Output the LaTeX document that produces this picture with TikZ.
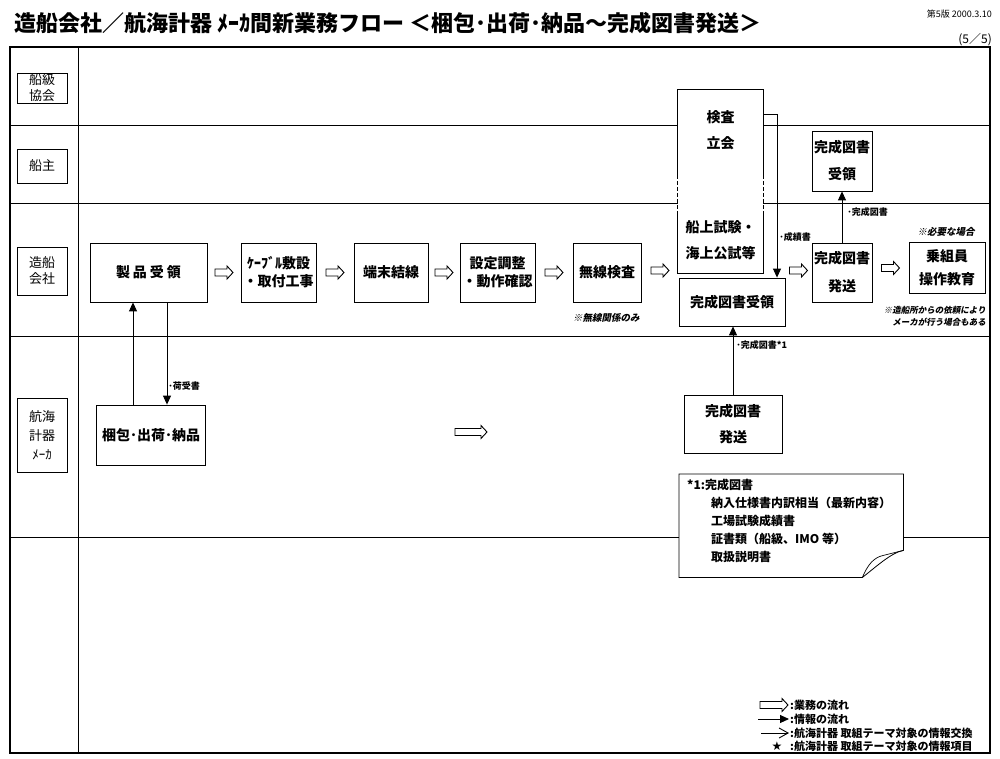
\documentclass[tikz,border=0pt]{standalone}
\usepackage{fontspec}
\setmainfont{Noto Sans CJK JP}
\newfontfamily\jpsl{Noto Sans CJK JP}[FakeSlant=0.2]
\newfontfamily\dejavu{DejaVu Sans}
\usetikzlibrary{arrows.meta,calc}
\tikzset{
 box/.style={draw, line width=0.8pt, fill=white, font=\bfseries\fontsize{14}{18}\selectfont, align=center, inner sep=0pt},
 lanebox/.style={draw, line width=0.8pt, fill=white, minimum width=50pt, font=\fontsize{13}{16}\selectfont, align=center, inner sep=0pt},
 info/.style={-{Triangle[length=9pt,width=8pt]}, line width=0.9pt},
 lab/.style={font=\bfseries\fontsize{9}{10}\selectfont, inner sep=1pt},
 slnote/.style={font=\jpsl\bfseries\fontsize{9.5}{11}\selectfont, inner sep=0pt},
 plain/.style={inner sep=0pt},
 hollow/.style={draw, line width=0.9pt, fill=white},
 pics/harrow/.style={code={\draw[hollow] (-#1,-3.5) -- (#1-6,-3.5) -- (#1-6,-6.5) -- (#1,0) -- (#1-6,6.5) -- (#1-6,3.5) -- (-#1,3.5) -- cycle;}},
 legtext/.style={anchor=west, font=\bfseries\fontsize{11}{12}\selectfont, inner sep=0pt}
}
\begin{document}
\begin{tikzpicture}[x=1pt,y=-1pt]
\useasboundingbox (0,0) rectangle (1000,759);
% title
\node[anchor=west, font=\bfseries\fontsize{22}{24}\selectfont, inner sep=0pt] (title) at (14,23) {造船会社／航海計器 ﾒｰｶ間新業務フロー ＜梱包･出荷･納品～完成図書発送＞};
\node[anchor=east, font=\fontsize{9}{10}\selectfont, inner sep=0pt] (ver) at (992,14) {第5版 2000.3.10};
\node[anchor=east, font=\fontsize{12}{13}\selectfont, inner sep=0pt] (page) at (992,40) {(5／5)};

% frame and lanes
\draw[line width=1.2pt] (10,47) rectangle (990,753);
\draw[line width=1pt] (78,47) -- (78,753);
\foreach \y in {126,204,336,537} \draw[line width=1pt] (10,\y) -- (990,\y);

% lane labels
\node[lanebox, minimum height=30pt] (L1) at (42,88) {船級\\協会};
\node[lanebox, minimum height=34pt] (L2) at (42,166) {船主};
\node[lanebox, minimum height=48pt] (L3) at (42,271) {造船\\会社};
\node[lanebox, minimum height=74pt] (L4) at (42,435) {航海\\[3pt]計器\\[3pt]ﾒｰｶ};

% shipyard lane process boxes
\node[box, minimum width=117pt, minimum height=59pt] (recv) at (148.5,272.5) {製\hspace{3pt}品\hspace{3pt}受\hspace{3pt}領};
\node[box, minimum width=75pt, minimum height=59pt] (cable) at (278.5,272.5) {ｹｰﾌﾞﾙ敷設\\・取付工事};
\node[box, minimum width=74pt, minimum height=59pt] (term) at (391,272.5) {端末結線};
\node[box, minimum width=75pt, minimum height=59pt] (adj) at (497.5,272.5) {設定調整\\・動作確認};
\node[box, minimum width=68pt, minimum height=59pt] (radio) at (607,272.5) {無線検査};
\node[slnote, anchor=west] (radionote) at (573,318) {※無線関係のみ};

% inspection box spanning lanes
\node[fill=white, minimum width=85pt, minimum height=183pt, inner sep=0pt] (insp) at (720.5,181.5) {};
\draw[line width=0.8pt] ([yshift=-85]insp.north west) -- (insp.north west) -- (insp.north east) -- ([yshift=-85]insp.north east);
\draw[line width=0.8pt] ([yshift=61]insp.south west) -- (insp.south west) -- (insp.south east) -- ([yshift=61]insp.south east);
\draw[line width=0.8pt, dash pattern=on 4pt off 2pt] ([yshift=-85]insp.north west) -- ([yshift=61]insp.south west);
\draw[line width=0.8pt, dash pattern=on 4pt off 2pt] ([yshift=-85]insp.north east) -- ([yshift=61]insp.south east);
\node[plain, font=\bfseries\fontsize{14}{18}\selectfont, align=center] (insptop) at (720.5,130) {検査\\[8pt]立会};
\node[plain, font=\bfseries\fontsize{14}{18}\selectfont, align=center] (inspbot) at (720.5,240) {船上試験・\\[8pt]海上公試等};

\node[box, minimum width=106pt, minimum height=48pt] (docrecv) at (732,302) {完成図書受領};
\node[box, minimum width=60pt, minimum height=59pt] (docsend) at (842,272.5) {完成図書\\[10pt]発送};
\node[box, minimum width=60pt, minimum height=60pt] (ownrecv) at (842,161) {完成図書\\[9pt]受領};
\node[box, minimum width=76pt, minimum height=51pt] (crew) at (947,267.5) {乗組員\\[5pt]操作教育};
\node[slnote] (crewnote1) at (946,232) {※必要な場合};
\node[slnote, font=\jpsl\bfseries\fontsize{8.5}{12}\selectfont, align=right, anchor=east] (crewnote2) at (986,316) {※造船所からの依頼により\\メーカが行う場合もある};

% maker lane
\node[box, minimum width=109pt, minimum height=60pt] (pack) at (151,435) {梱包･出荷･納品};
\node[box, minimum width=98pt, minimum height=58pt] (mksend) at (733,424) {完成図書\\[8pt]発送};

% note with folded corner
\node[minimum width=224pt, minimum height=103pt, inner sep=0pt, anchor=north west] (note) at (679,474) {};
\draw[line width=0.8pt, fill=white] (note.north west) -- (note.north east) -- ([yshift=27]note.south east)
  .. controls ([xshift=-12,yshift=25]note.south east) and ([xshift=-28,yshift=10]note.south east) .. ([xshift=-41]note.south east)
  -- (note.south west) -- cycle;
\draw[line width=0.7pt] ([xshift=-41]note.south east) .. controls ([xshift=-36,yshift=12]note.south east) and ([xshift=-30,yshift=20]note.south east) .. ([xshift=-20,yshift=22]note.south east) -- ([yshift=27]note.south east);
\node[plain, anchor=north west, font=\bfseries\fontsize{12}{18}\selectfont] (notehead) at (687,479) {*1:完成図書};
\node[plain, anchor=north west, align=left, font=\bfseries\fontsize{12}{18}\selectfont] (notebody) at (711,497) {納入仕様書内訳相当（最新内容）\\工場試験成績書\\証書類（船級、IMO 等）\\取扱説明書};

% business flow (hollow) arrows
\pic at ($(recv.east)!.5!(cable.west)$) {harrow=9};
\pic at ($(cable.east)!.5!(term.west)$) {harrow=9};
\pic at ($(term.east)!.5!(adj.west)$) {harrow=9};
\pic at ($(adj.east)!.5!(radio.west)$) {harrow=9};
\pic at ([yshift=2]$(radio.east)!.5!(radio.east -| docrecv.west)$) {harrow=9};
\pic at ([yshift=2]$(docsend.west)!.5!(docsend.west -| docrecv.east)$) {harrow=9};
\pic at ([yshift=2]$(docsend.east)!.5!(crew.west)$) {harrow=9};
\pic at (471,432) {harrow=16};

% information flow arrows
\draw[info] ([xshift=-18]pack.north) -- ([xshift=-18]pack.north |- recv.south);
\draw[info] ([xshift=18.5]recv.south) -- ([xshift=18.5]recv.south |- pack.north) node[lab, pos=0.82, anchor=west] {･荷受書};
\draw[info] (mksend.north) -- (mksend.north |- docrecv.south) node[lab, pos=0.72, anchor=west, xshift=2] {･完成図書*1};
\draw[info] ([yshift=-25]insp.north east) -| ([xshift=45]docrecv.north) node[lab, pos=0.877, anchor=west, xshift=1] {･成績書};
\draw[info] (docsend.north) -- (docsend.north |- ownrecv.south) node[lab, pos=0.6, anchor=west, xshift=4] {･完成図書};

% legend
\pic at (774,705) {harrow=14};
\node[legtext] (lg1) at (790,705) {:業務の流れ};
\coordinate (lga) at (758,719);
\draw[info] (lga) -- (789,719);
\node[legtext] (lg2) at (790,719) {:情報の流れ};
\coordinate (lgb) at (761,733);
\draw[line width=0.9pt, -{Straight Barb[length=9pt,width=10pt]}] (lgb) -- (789,733);
\node[legtext] (lg3) at (790,733) {:航海計器 取組テーマ対象の情報交換};
\node[plain, font=\dejavu\fontsize{12}{12}\selectfont] (lgstar) at (777,746) {★};
\node[legtext] (lg4) at (790,746) {:航海計器 取組テーマ対象の情報項目};
\end{tikzpicture}
\end{document}
